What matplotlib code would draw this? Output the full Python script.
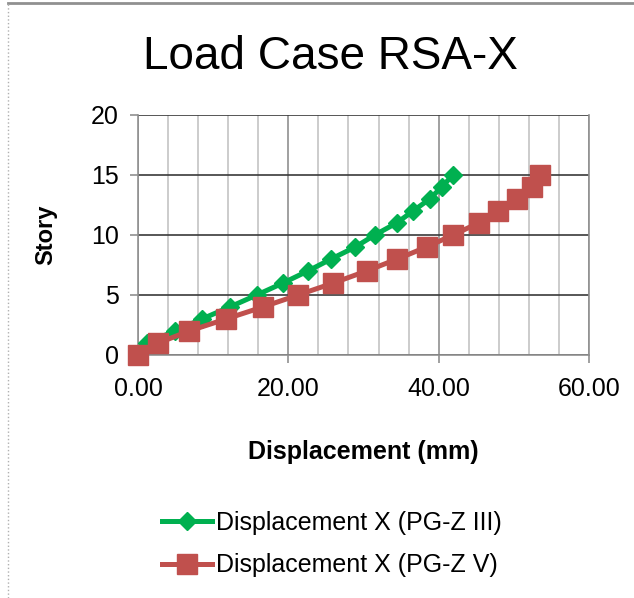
import matplotlib.pyplot as plt
from matplotlib.ticker import MultipleLocator, FormatStrFormatter

plt.rcParams['font.family'] = ['Liberation Sans', 'DejaVu Sans']

story = list(range(16))
disp_iii = [0.0, 1.2, 4.9, 8.5, 12.2, 15.8, 19.3, 22.6, 25.7, 28.9,
            31.5, 34.4, 36.6, 38.8, 40.4, 41.9]
disp_v = [0.0, 2.7, 6.8, 11.7, 16.6, 21.3, 26.0, 30.4, 34.5, 38.4,
          41.9, 45.3, 47.9, 50.4, 52.4, 53.5]

green = "#00B050"
red = "#C0504D"

fig = plt.figure(figsize=(6.34, 5.98), dpi=100)
ax = fig.add_axes([138/634, 1 - 355/598, 451/634, 240/598])

ax.plot(disp_iii, story, color=green, lw=3.6, marker="D", ms=9,
        label="Displacement X (PG-Z III)", zorder=3, clip_on=False)
ax.plot(disp_v, story, color=red, lw=3.6, marker="s", ms=14,
        label="Displacement X (PG-Z V)", zorder=4, clip_on=False)

ax.set_xlim(0, 60)
ax.set_ylim(0, 20)
ax.xaxis.set_major_locator(MultipleLocator(20))
ax.xaxis.set_minor_locator(MultipleLocator(4))
ax.yaxis.set_major_locator(MultipleLocator(5))
ax.xaxis.set_major_formatter(FormatStrFormatter("%.2f"))

ax.grid(True, which="major", axis="y", color="#3a3a3a", lw=1.2)
ax.grid(True, which="major", axis="x", color="#909090", lw=1.2)
ax.grid(True, which="minor", axis="x", color="#c4c4c4", lw=1.2)
ax.set_axisbelow(True)

for s in ["left", "bottom", "right"]:
    ax.spines[s].set_color("#909090")
    ax.spines[s].set_linewidth(1.2)
ax.spines["top"].set_visible(False)

ax.tick_params(axis="both", which="major", labelsize=18, colors="#909090",
               labelcolor="black", length=6, width=1.2, pad=8)
ax.tick_params(axis="x", which="minor", length=0)
ax.tick_params(axis="x", which="major", pad=10)

ax.set_xlabel("Displacement (mm)", fontsize=18, fontweight="bold", labelpad=28)
ax.set_ylabel("Story", fontsize=17, fontweight="bold", labelpad=24)

fig.text(330/634, 1 - 57/598, "Load Case RSA-X", fontsize=33,
         ha="center", va="center")

leg = fig.legend(loc="center", bbox_to_anchor=(332/634, 1 - 544/598),
                 frameon=False, fontsize=18, handlelength=2.0,
                 handletextpad=0.15, labelspacing=0.75)

# outer chart frame
fig.add_artist(plt.Line2D([8/634, 1], [1 - 3/598, 1 - 3/598], color="#909090", lw=2))
fig.add_artist(plt.Line2D([8/634, 8/634], [0, 1 - 3/598], color="#b0b0b0", lw=1, ls=":"))

fig.savefig("out.png", dpi=100)
